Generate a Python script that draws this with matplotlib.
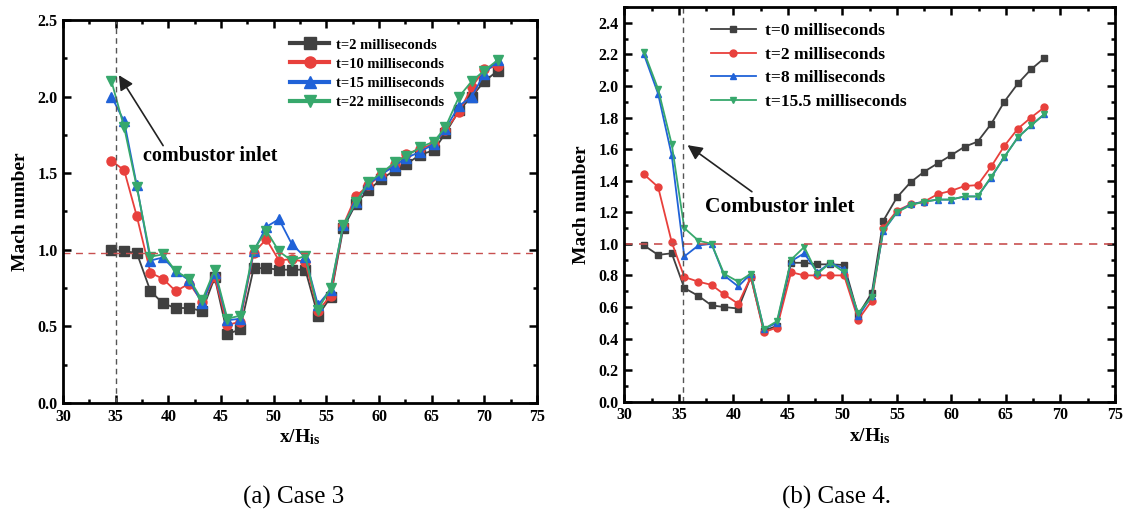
import matplotlib
matplotlib.use("Agg")
import matplotlib.pyplot as plt
from matplotlib.ticker import MultipleLocator

plt.rcParams['font.family'] = ['Liberation Serif', 'DejaVu Serif']
plt.rcParams['font.weight'] = 'bold'
plt.rcParams['mathtext.fontset'] = 'custom'
plt.rcParams['mathtext.rm'] = 'Liberation Serif:bold'
plt.rcParams['mathtext.bf'] = 'Liberation Serif:bold'
plt.rcParams['mathtext.it'] = 'Liberation Serif:bold'

# ---- Case 3 ----
x3 = [34.6, 35.8, 37.0, 38.3, 39.5, 40.7, 42.0, 43.2, 44.4, 45.6, 46.8, 48.1, 49.3, 50.5, 51.7, 53.0,
      54.2, 55.4, 56.6, 57.8, 59.0, 60.2, 61.5, 62.6, 63.9, 65.2, 66.3, 67.6, 68.8, 70.0, 71.3]
c3_t2 = [1.00, 0.99, 0.98, 0.73, 0.65, 0.62, 0.62, 0.60, 0.82, 0.45, 0.48, 0.88, 0.88, 0.87, 0.87, 0.87,
         0.57, 0.69, 1.14, 1.30, 1.39, 1.46, 1.52, 1.56, 1.62, 1.65, 1.76, 1.91, 2.00, 2.10, 2.17]
c3_t10 = [1.58, 1.52, 1.22, 0.85, 0.81, 0.73, 0.78, 0.66, 0.82, 0.51, 0.53, 0.98, 1.07, 0.93, 0.94, 0.92,
          0.60, 0.70, 1.16, 1.35, 1.42, 1.49, 1.56, 1.625, 1.66, 1.69, 1.78, 1.90, 2.06, 2.18, 2.20]
c3_t15 = [2.00, 1.84, 1.42, 0.93, 0.95, 0.86, 0.80, 0.65, 0.85, 0.54, 0.55, 0.99, 1.15, 1.20, 1.04, 0.95,
          0.64, 0.74, 1.16, 1.31, 1.43, 1.49, 1.55, 1.60, 1.64, 1.69, 1.79, 1.94, 2.00, 2.15, 2.24]
c3_t22 = [2.10, 1.80, 1.41, 0.955, 0.97, 0.86, 0.81, 0.67, 0.87, 0.55, 0.57, 1.00, 1.125, 0.99, 0.93, 0.96,
          0.61, 0.75, 1.16, 1.31, 1.44, 1.50, 1.57, 1.61, 1.67, 1.705, 1.80, 2.00, 2.10, 2.17, 2.24]
labels3 = ['t=2 milliseconds', 't=10 milliseconds', 't=15 milliseconds', 't=22 milliseconds']

# ---- Case 4 ----
x4 = [31.8, 33.1, 34.35, 35.5, 36.8, 38.0, 39.15, 40.45, 41.6, 42.8, 44.0, 45.3, 46.5, 47.7, 48.9, 50.15,
      51.45, 52.7, 53.75, 55.0, 56.25, 57.5, 58.75, 59.95, 61.2, 62.4, 63.65, 64.85, 66.1, 67.3, 68.5]
c4_t0 = [0.99, 0.93, 0.94, 0.72, 0.67, 0.61, 0.60, 0.59, 0.79, 0.45, 0.48, 0.88, 0.88, 0.87, 0.87, 0.866,
         0.55, 0.69, 1.146, 1.294, 1.39, 1.457, 1.51, 1.56, 1.615, 1.647, 1.76, 1.90, 2.016, 2.105, 2.175]
c4_t2 = [1.44, 1.36, 1.01, 0.79, 0.76, 0.74, 0.68, 0.62, 0.79, 0.44, 0.47, 0.82, 0.80, 0.80, 0.80, 0.80,
         0.52, 0.64, 1.10, 1.21, 1.25, 1.267, 1.315, 1.335, 1.366, 1.372, 1.49, 1.62, 1.73, 1.80, 1.864]
c4_t8 = [2.20, 1.95, 1.56, 0.92, 0.99, 1.00, 0.80, 0.73, 0.81, 0.46, 0.50, 0.89, 0.94, 0.82, 0.88, 0.84,
         0.54, 0.67, 1.08, 1.20, 1.25, 1.267, 1.28, 1.28, 1.30, 1.30, 1.42, 1.55, 1.675, 1.75, 1.82]
c4_t155 = [2.217, 1.98, 1.63, 1.10, 1.02, 1.00, 0.81, 0.76, 0.81, 0.46, 0.51, 0.90, 0.98, 0.81, 0.88, 0.82,
           0.56, 0.665, 1.087, 1.20, 1.245, 1.267, 1.28, 1.28, 1.30, 1.30, 1.425, 1.55, 1.675, 1.75, 1.82]
labels4 = ['t=0 milliseconds', 't=2 milliseconds', 't=8 milliseconds', 't=15.5 milliseconds']

colors = ['#404040', '#e8403c', '#2062d8', '#37a86c']
markers = ['s', 'o', '^', 'v']

fig = plt.figure(figsize=(11.38, 5.18), dpi=100)
ax1 = fig.add_axes([0.0554, 0.222, 0.4165, 0.7394])
ax2 = fig.add_axes([0.5486, 0.2245, 0.4312, 0.762])


def style_axes(ax, ymajor, yminor):
    ax.set_xlim(30, 75)
    ax.set_ylim(0, 2.5)
    ax.xaxis.set_major_locator(MultipleLocator(5))
    ax.xaxis.set_minor_locator(MultipleLocator(2.5))
    ax.yaxis.set_major_locator(MultipleLocator(ymajor))
    ax.yaxis.set_minor_locator(MultipleLocator(yminor))
    ax.tick_params(which='both', direction='in', top=True, right=True, width=1.8)
    ax.tick_params(which='major', length=6, labelsize=11.5, pad=4)
    ax.tick_params(which='minor', length=3)
    ax.tick_params(axis='y', labelright=False)
    for s in ax.spines.values():
        s.set_linewidth(2.0)
    for lab in ax.get_xticklabels() + ax.get_yticklabels():
        lab.set_fontweight('bold')
    ax.set_xlabel(r'$\mathbf{x/H}_{\mathbf{is}}$', fontsize=14, labelpad=2)
    ax.set_ylabel('Mach number', fontsize=14, fontweight='bold', labelpad=6)


def arrow(ax, tail, tip):
    ax.annotate('', xy=tip, xytext=tail,
                arrowprops=dict(arrowstyle='-|>', color='#222222', lw=1.2,
                                mutation_scale=22, shrinkA=0, shrinkB=0))


# Case 3 panel
series3 = [c3_t2, c3_t10, c3_t15, c3_t22]
for ys, c, m, lab in zip(series3, colors, markers, labels3):
    ax1.plot(x3, ys, color=c, marker=m, markersize=6.5, linewidth=1.3, label=lab)
ax1.axvline(35.0, color='#555555', linestyle=(0, (4, 3)), linewidth=1.0)
ax1.axhline(0.98, color='#c85050', linestyle=(0, (5, 4)), linewidth=1.0)
style_axes(ax1, 0.5, 0.25)
ax1.set_yticks([0.0, 0.5, 1.0, 1.5, 2.0, 2.5])
ax1.text(37.6, 1.61, 'combustor inlet', fontsize=14.5, fontweight='bold', va='center', ha='left')
arrow(ax1, (39.5, 1.68), (35.3, 2.14))
leg1 = ax1.legend(loc='upper left', bbox_to_anchor=(0.46, 0.975), frameon=False,
                  fontsize=10.5, handlelength=2.7, handletextpad=0.5, labelspacing=0.4,
                  borderaxespad=0.2)
for h in leg1.get_lines():
    h.set_linewidth(3)
    h.set_markersize(8)
for t in leg1.get_texts():
    t.set_fontweight('bold')

# Case 4 panel
series4 = [c4_t0, c4_t2, c4_t8, c4_t155]
for ys, c, m, lab in zip(series4, colors, markers, labels4):
    ax2.plot(x4, ys, color=c, marker=m, markersize=5, linewidth=1.3, label=lab)
ax2.axvline(35.35, color='#555555', linestyle=(0, (4, 3)), linewidth=1.0)
ax2.axhline(1.0, color='#c85050', linestyle=(0, (5, 4)), linewidth=1.2)
style_axes(ax2, 0.2, 0.1)
ax2.set_yticks([round(0.2 * i, 1) for i in range(13)])
ax2.set_yticklabels([f'{0.2 * i:.1f}' for i in range(13)], fontweight='bold')
ax2.text(37.4, 1.235, 'Combustor inlet', fontsize=15.5, fontweight='bold', va='center', ha='left')
arrow(ax2, (41.7, 1.33), (35.8, 1.625))
leg2 = ax2.legend(loc='upper left', bbox_to_anchor=(0.155, 0.985), frameon=False,
                  fontsize=12.5, handlelength=2.6, handletextpad=0.5, labelspacing=0.42,
                  borderaxespad=0.2)
for t in leg2.get_texts():
    t.set_fontweight('bold')

# panel captions
fig.text(0.258, 0.04, '(a) Case 3', fontsize=18, fontweight='normal', ha='center', va='center')
fig.text(0.735, 0.04, '(b) Case 4.', fontsize=18, fontweight='normal', ha='center', va='center')

fig.savefig('out.png', dpi=100)
